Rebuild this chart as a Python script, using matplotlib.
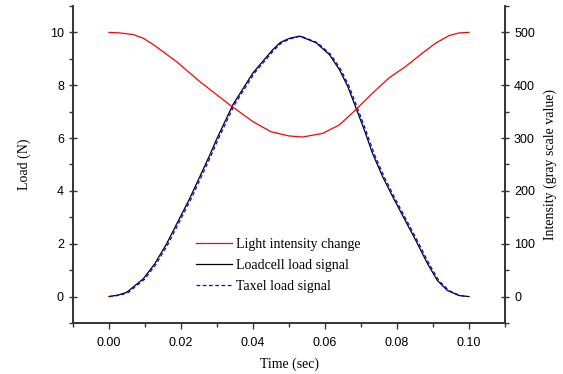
import matplotlib.pyplot as plt
from matplotlib.ticker import MultipleLocator

# Light intensity (gray scale value)
t_int = [0.0, 0.003, 0.0067, 0.0095, 0.0123, 0.0187, 0.0252, 0.0335, 0.040,
         0.045, 0.050, 0.0538, 0.0594, 0.0640, 0.0686, 0.0732, 0.0778,
         0.0825, 0.0871, 0.0908, 0.0945, 0.0972, 0.1]
intensity = [500, 499, 496, 489, 477, 445, 407, 363, 331,
             312, 304, 302, 309, 325, 354, 385, 414,
             436, 461, 480, 494, 499, 500]

# Loadcell load (N)
t_load = [0.0, 0.0026, 0.0049, 0.0095, 0.0127, 0.016, 0.0224, 0.028, 0.0298,
          0.0344, 0.040, 0.0455, 0.0476, 0.050, 0.0529, 0.0575, 0.0612, 0.0640,
          0.0663, 0.0686, 0.0709, 0.0732, 0.0760, 0.0788, 0.0820, 0.0852,
          0.0885, 0.0912, 0.0940, 0.0972, 0.1]
load = [0.0, 0.06, 0.16, 0.67, 1.24, 2.0, 3.71, 5.36, 5.93,
        7.26, 8.47, 9.35, 9.62, 9.77, 9.86, 9.61, 9.16, 8.59,
        7.96, 7.14, 6.31, 5.42, 4.54, 3.78, 2.95, 2.13,
        1.24, 0.61, 0.23, 0.04, 0.0]

# Taxel load (N), sits about 1.5 px to the right of the loadcell trace
t_taxel = [0.0, 0.0030, 0.0053, 0.0099, 0.0131, 0.0164, 0.0228, 0.0284, 0.0302,
           0.0348, 0.0404, 0.0459, 0.0480, 0.0504, 0.0533, 0.0579, 0.0616, 0.0644,
           0.0667, 0.0690, 0.0713, 0.0736, 0.0764, 0.0792, 0.0824, 0.0856,
           0.0889, 0.0916, 0.0944, 0.0975, 0.0995]
taxel = [0.0, 0.05, 0.15, 0.66, 1.23, 1.99, 3.70, 5.35, 5.92,
         7.25, 8.46, 9.34, 9.61, 9.76, 9.86, 9.61, 9.16, 8.59,
         7.96, 7.14, 6.31, 5.42, 4.54, 3.78, 2.95, 2.13,
         1.24, 0.61, 0.23, 0.04, 0.0]

serif = 'Liberation Serif'
sans = 'Liberation Sans'

fig = plt.figure(figsize=(5.63, 3.74), dpi=100)
ax = fig.add_axes([0.1297, 0.1364, 0.7673, 0.8476])
ax2 = ax.twinx()

l1, = ax2.plot(t_int, intensity, color='red', lw=0.9)
l2, = ax.plot(t_load, load, color='black', lw=0.9)
l3, = ax.plot(t_taxel, taxel, color='blue', lw=0.9, ls=(0, (3, 2)))

ax.set_xlim(-0.01, 0.11)
ax.set_ylim(-1, 11)
ax2.set_ylim(-50, 550)

ax.xaxis.set_major_locator(MultipleLocator(0.02))
ax.xaxis.set_minor_locator(MultipleLocator(0.01))
ax.yaxis.set_major_locator(MultipleLocator(2))
ax.yaxis.set_minor_locator(MultipleLocator(1))
ax2.yaxis.set_major_locator(MultipleLocator(100))
ax2.yaxis.set_minor_locator(MultipleLocator(50))
ax.set_xticks([0.0, 0.02, 0.04, 0.06, 0.08, 0.10])
ax.set_xticklabels(['0.00', '0.02', '0.04', '0.06', '0.08', '0.10'])

for a in (ax, ax2):
    a.spines['top'].set_visible(False)
    for s in a.spines.values():
        s.set_linewidth(1.2)
        s.set_color('#333333')
    a.tick_params(which='major', length=6, width=1.0, labelsize=9, color='#333333')
    a.tick_params(which='minor', length=3, width=1.0, color='#333333')
    for lab in a.get_xticklabels() + a.get_yticklabels():
        lab.set_fontfamily(sans)

ax.tick_params(axis='y', which='major', direction='inout', length=6)
ax2.tick_params(axis='y', which='major', direction='inout', length=6)
ax.tick_params(axis='x', which='major', direction='out', length=4)
ax.tick_params(axis='x', which='minor', direction='out', length=3)
ax.tick_params(axis='x', pad=6)

ax.set_xlabel('Time (sec)', fontfamily=serif, fontsize=10, labelpad=6)
ax.set_ylabel('Load (N)', fontfamily=serif, fontsize=10, labelpad=14)
ax2.set_ylabel('Intensity (gray scale value)', fontfamily=serif, fontsize=10, labelpad=6)

leg = ax.legend([l1, l2, l3],
                ['Light intensity change', 'Loadcell load signal', 'Taxel load signal'],
                loc='upper left', bbox_to_anchor=(0.256, 0.309), frameon=False,
                prop={'family': serif, 'size': 10}, handlelength=2.6,
                handletextpad=0.3, labelspacing=0.6)

fig.savefig('out.png', dpi=100)
